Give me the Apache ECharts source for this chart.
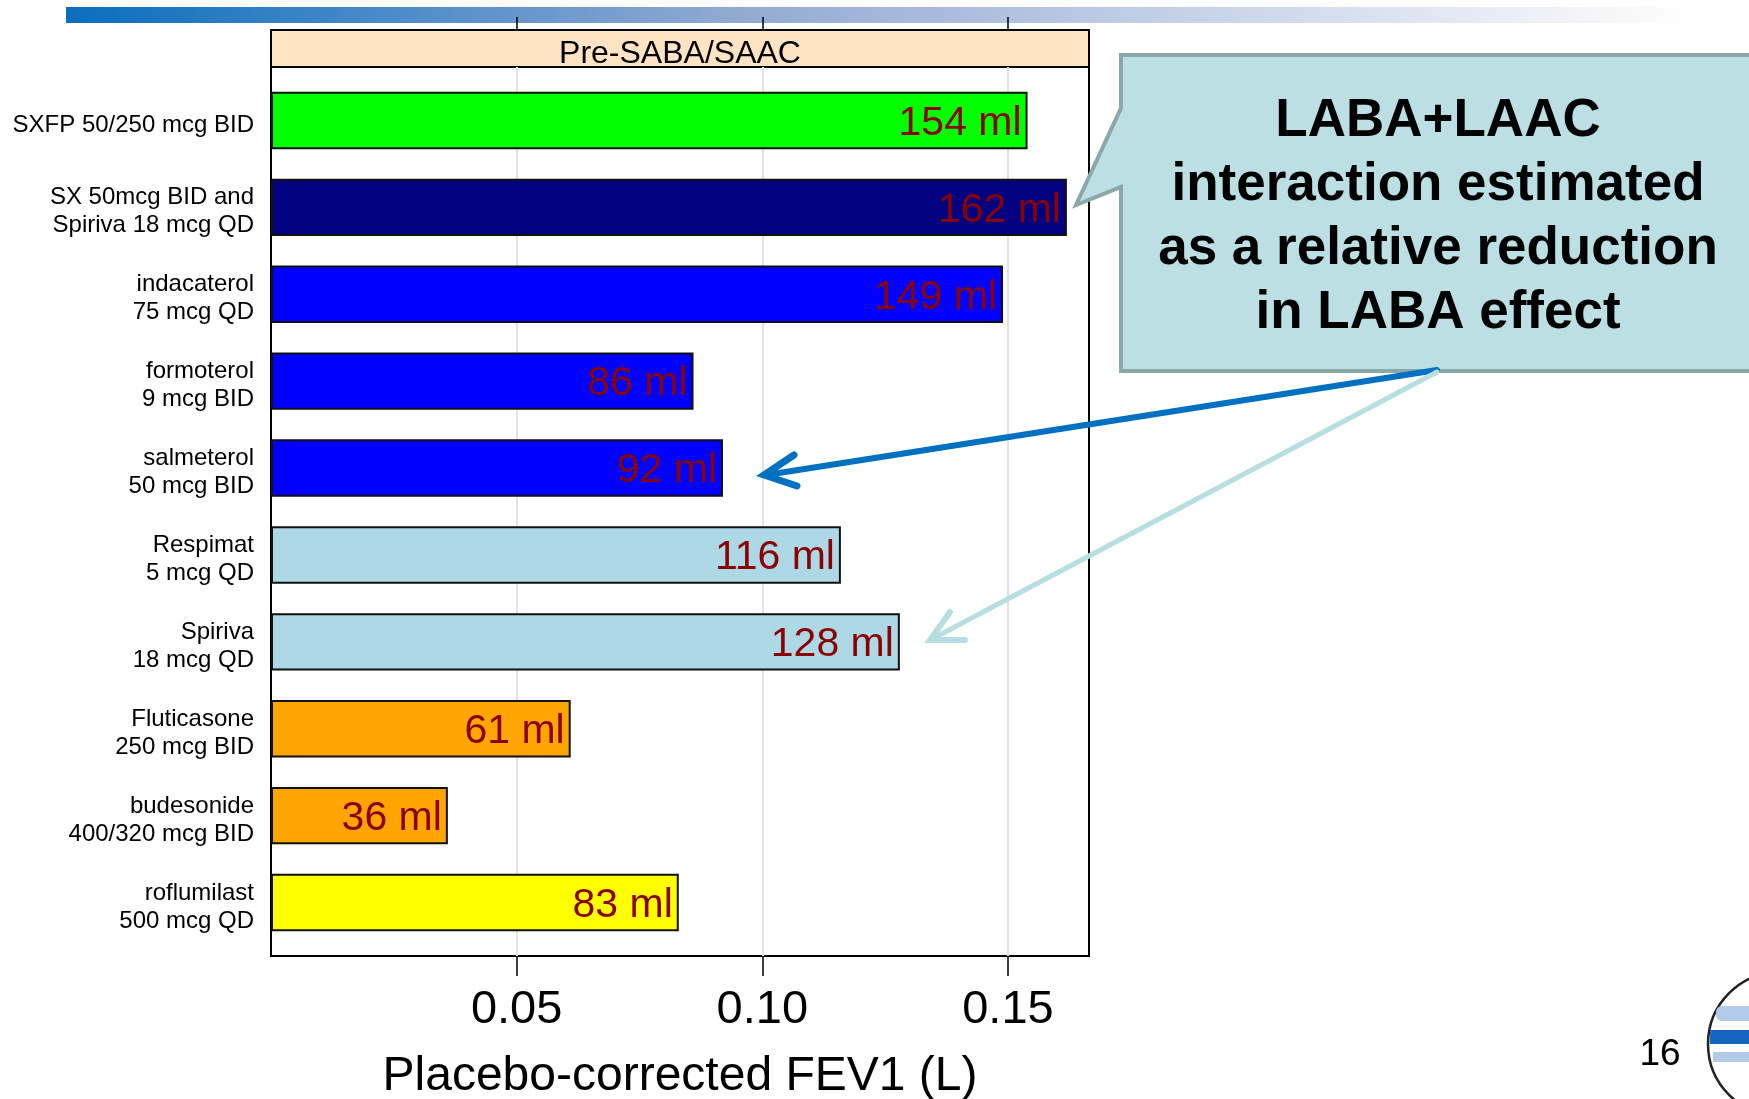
<!DOCTYPE html>
<html><head><meta charset="utf-8">
<script src="https://cdn.jsdelivr.net/npm/echarts@6/dist/echarts.min.js"></script>
<style>html,body{margin:0;padding:0;background:#fff}#c{width:1749px;height:1099px}</style>
</head><body><div id="c"></div>
<script>
// ---- data ----
const categories = [
  'SXFP 50/250 mcg BID',
  'SX 50mcg BID and\nSpiriva 18 mcg QD',
  'indacaterol\n75 mcg QD',
  'formoterol\n9 mcg BID',
  'salmeterol\n50 mcg BID',
  'Respimat\n5 mcg QD',
  'Spiriva\n18 mcg QD',
  'Fluticasone\n250 mcg BID',
  'budesonide\n400/320 mcg BID',
  'roflumilast\n500 mcg QD'
];
const fev1Ml = [154, 162, 149, 86, 92, 116, 128, 61, 36, 83];
const tickValues = [0.05, 0.10, 0.15];
const stripTitle = 'Pre-SABA/SAAC';
const axisTitle = 'Placebo-corrected FEV1 (L)';
const calloutLines = ['LABA+LAAC', 'interaction estimated', 'as a relative reduction', 'in LABA effect'];
const pageNumber = '16';

// ---- styles ----
const barColors = ['#00FF00', '#000080', '#0000FF', '#0000FF', '#0000FF',
                   '#ADD8E6', '#ADD8E6', '#FFA500', '#FFA500', '#FFFF00'];
const FONT = "'Liberation Sans', Arial, Helvetica, sans-serif";
const X_MIN = 0, X_MAX = 0.1665;

const chart = echarts.init(document.getElementById('c'), null, {renderer: 'canvas'});
chart.setOption({
  animation: false,
  backgroundColor: '#ffffff',
  grid: [
    {left: 271, top: 67, width: 818, height: 889, outerBoundsMode: 'none', containLabel: false,
     show: true, borderColor: '#000', borderWidth: 2, backgroundColor: 'transparent'},
    {left: 271, top: 77, width: 818, height: 869, outerBoundsMode: 'none', containLabel: false},
    {left: 271, top: 30, width: 818, height: 37, outerBoundsMode: 'none', containLabel: false,
     show: true, backgroundColor: '#FFE4C4', borderColor: '#000', borderWidth: 2}
  ],
  xAxis: [
    {gridIndex: 0, type: 'value', min: X_MIN, max: X_MAX, interval: 0.05, position: 'bottom',
     axisLine: {show: false, onZero: false},
     axisTick: {show: true, customValues: tickValues, length: 20, lineStyle: {color: '#000', width: 1.5}},
     axisLabel: {customValues: tickValues, formatter: v => v.toFixed(2), fontSize: 47, color: '#000', margin: 31, fontFamily: FONT},
     splitLine: {show: true, lineStyle: {color: '#e2e2e2', width: 2}},
     name: axisTitle, nameLocation: 'middle', nameGap: 97,
     nameTextStyle: {fontSize: 48, color: '#000', fontFamily: FONT}},
    {gridIndex: 1, type: 'value', min: X_MIN, max: X_MAX, show: false},
    {gridIndex: 2, type: 'value', min: X_MIN, max: X_MAX, interval: 0.05, position: 'top',
     axisLine: {show: false, onZero: false},
     axisTick: {show: true, inside: false, customValues: tickValues, length: 13, lineStyle: {color: '#000', width: 1.5}},
     axisLabel: {show: false}, splitLine: {show: false}}
  ],
  yAxis: [
    {gridIndex: 0, type: 'value', show: false, min: 0, max: 1},
    {gridIndex: 1, type: 'category', data: categories, inverse: true,
     axisLine: {show: false}, axisTick: {show: false},
     axisLabel: {fontSize: 24, lineHeight: 28, color: '#000', margin: 17, fontFamily: FONT,
                 formatter: v => '{s| }\n' + v,
                 rich: {s: {fontSize: 2, lineHeight: 9}}}},
    {gridIndex: 2, type: 'value', show: false, min: 0, max: 1}
  ],
  series: [{
    type: 'bar', xAxisIndex: 1, yAxisIndex: 1,
    barCategoryGap: '34%',
    data: fev1Ml.map((v, i) => ({value: v / 1000, itemStyle: {color: barColors[i]}})),
    itemStyle: {borderColor: '#111', borderWidth: 2},
    label: {show: true, position: 'insideRight', distance: 6, offset: [0, 3],
            formatter: p => Math.round(p.value * 1000) + ' ml',
            fontSize: 41, color: '#8B0000', fontFamily: FONT}
  }],
  graphic: [
    {type: 'rect', z: -5, shape: {x: 66, y: 7, width: 1683, height: 16},
     style: {fill: new echarts.graphic.LinearGradient(0, 0, 1, 0, [
       {offset: 0, color: '#0A6EBD'}, {offset: 0.4, color: '#92AAD3'}, {offset: 0.97, color: '#FFFFFF'}])}},
    {type: 'text', x: 680, y: 54, z: 5,
     style: {text: stripTitle, fontSize: 32, fontFamily: FONT, fill: '#000', align: 'center', verticalAlign: 'middle'}},
    {type: 'polygon', z: 10,
     shape: {points: [[1121, 55], [1765, 55], [1765, 371], [1121, 371], [1121, 187], [1076, 205], [1121, 108]]},
     style: {fill: '#BBDFE3', stroke: '#8CA7A9', lineWidth: 4}},
    {type: 'text', x: 1438, y: 217, z: 11,
     style: {text: calloutLines.join('\n'), fontSize: 53, fontWeight: 'bold', lineHeight: 64,
             align: 'center', verticalAlign: 'middle', fill: '#000', fontFamily: FONT}},
    {type: 'polyline', z: 12, shape: {points: [[1437, 370], [766, 475]]},
     style: {stroke: '#0070C0', lineWidth: 6, lineCap: 'round'}},
    {type: 'polyline', z: 12, shape: {points: [[794, 455], [764, 475], [797, 486]]},
     style: {stroke: '#0070C0', lineWidth: 7, lineCap: 'round', lineJoin: 'miter', fill: null}},
    {type: 'polyline', z: 12, shape: {points: [[1437, 372], [932, 639]]},
     style: {stroke: '#B7DEE1', lineWidth: 5, lineCap: 'round'}},
    {type: 'polyline', z: 12, shape: {points: [[950, 612], [930, 640], [965, 640]]},
     style: {stroke: '#B7DEE1', lineWidth: 6, lineCap: 'round', lineJoin: 'miter', fill: null}},
    {type: 'text', x: 1660, y: 1055, z: 5,
     style: {text: pageNumber, fontSize: 37, fontFamily: FONT, fill: '#000', align: 'center', verticalAlign: 'middle'}},
    {type: 'circle', z: 5, shape: {cx: 1780, cy: 1044, r: 72},
     style: {fill: '#fff', stroke: '#222', lineWidth: 2.5}},
    {type: 'rect', z: 6, shape: {x: 1716, y: 1006, width: 40, height: 15, r: 6}, style: {fill: '#B3CBE8'}},
    {type: 'rect', z: 6, shape: {x: 1710, y: 1030, width: 45, height: 14}, style: {fill: '#1565C0'}},
    {type: 'rect', z: 6, shape: {x: 1713, y: 1052, width: 42, height: 10}, style: {fill: '#B3CBE8'}}
  ]
});
</script></body></html>
